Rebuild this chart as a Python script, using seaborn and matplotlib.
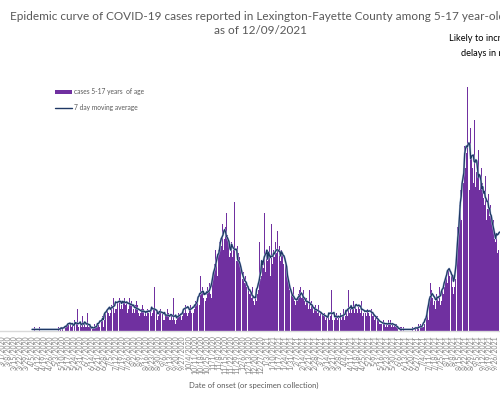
import matplotlib
matplotlib.use('Agg')
import matplotlib.pyplot as plt
import matplotlib.patheffects as pe
from matplotlib.patches import Patch
from matplotlib.lines import Line2D
import numpy as np
import pandas as pd
import seaborn as sns

# daily cases, 5-17 years of age, starting 3/1/2020 (one row per week)
start_date = '2020-03-01'
cases = [
    0, 0, 0, 0, 0, 0, 0,
    1, 0, 0, 0, 0, 0, 0,
    0, 0, 0, 0, 0, 0, 0,
    0, 0, 0, 0, 0, 0, 0,
    0, 1, 0, 0, 0, 0, 0,
    0, 2, 0, 1, 0, 0, 0,
    0, 0, 1, 0, 0, 0, 0,
    0, 0, 0, 0, 0, 0, 0,
    0, 0, 0, 0, 0, 0, 0,
    0, 1, 0, 1, 0, 1, 0,
    1, 1, 2, 0, 1, 1, 2,
    2, 1, 5, 2, 1, 2, 0,
    3, 1, 2, 2, 6, 1, 0,
    2, 1, 3, 4, 1, 2, 1,
    1, 5, 2, 1, 2, 1, 0,
    1, 1, 0, 2, 1, 1, 1,
    2, 1, 6, 2, 3, 4, 1,
    3, 5, 4, 12, 6, 5, 4,
    5, 7, 6, 8, 9, 5, 6,
    6, 8, 13, 7, 9, 6, 7,
    6, 8, 9, 11, 7, 8, 5,
    6, 9, 7, 10, 8, 5, 6,
    5, 7, 8, 6, 7, 5, 4,
    5, 6, 7, 5, 6, 4, 5,
    4, 6, 5, 7, 5, 6, 4,
    5, 6, 12, 4, 5, 6, 3,
    4, 5, 6, 4, 9, 5, 3,
    3, 5, 4, 6, 4, 5, 3,
    3, 4, 3, 9, 4, 3, 2,
    3, 4, 5, 4, 6, 4, 3,
    4, 6, 5, 7, 12, 5, 4,
    5, 6, 7, 5, 8, 6, 5,
    6, 8, 7, 9, 8, 10, 7,
    15, 10, 12, 9, 11, 10, 8,
    9, 12, 11, 13, 10, 12, 9,
    14, 16, 18, 22, 20, 17, 15,
    22, 24, 25, 23, 29, 30, 22,
    25, 28, 32, 26, 24, 22, 20,
    21, 24, 20, 22, 35, 18, 17,
    19, 23, 21, 20, 17, 16, 15,
    14, 16, 13, 15, 12, 11, 13,
    12, 10, 11, 9, 12, 8, 10,
    7, 9, 8, 10, 11, 24, 13,
    14, 15, 18, 17, 32, 16, 20,
    22, 19, 21, 23, 15, 29, 14,
    18, 22, 20, 24, 21, 27, 19,
    20, 23, 19, 22, 21, 18, 27,
    17, 19, 18, 16, 14, 11, 10,
    9, 11, 10, 12, 8, 7, 9,
    6, 8, 10, 11, 12, 9, 10,
    9, 11, 8, 7, 9, 8, 6,
    7, 11, 6, 8, 7, 5, 6,
    5, 7, 6, 5, 7, 4, 5,
    4, 6, 5, 4, 5, 3, 4,
    3, 5, 4, 3, 4, 11, 3,
    4, 5, 3, 4, 5, 3, 4,
    3, 4, 5, 3, 4, 6, 3,
    4, 5, 6, 4, 11, 5, 6,
    5, 7, 6, 8, 5, 7, 6,
    5, 12, 7, 6, 5, 8, 4,
    5, 6, 7, 5, 4, 6, 5,
    4, 8, 5, 6, 4, 5, 3,
    4, 5, 3, 4, 3, 2, 2,
    2, 3, 2, 3, 2, 1, 2,
    1, 3, 2, 2, 3, 1, 2,
    1, 2, 3, 1, 2, 1, 0,
    0, 1, 0, 1, 0, 1, 0,
    0, 0, 1, 0, 0, 0, 0,
    0, 1, 0, 2, 0, 1, 0,
    1, 2, 0, 1, 2, 1, 1,
    1, 2, 3, 5, 4, 6, 3,
    8, 13, 11, 15, 9, 7, 8,
    6, 10, 9, 11, 8, 12, 7,
    8, 11, 10, 19, 12, 14, 16,
    13, 17, 15, 27, 14, 16, 12,
    10, 12, 14, 16, 20, 28, 26,
    34, 38, 30, 42, 45, 40, 50,
    44, 48, 66, 52, 50, 38, 55,
    47, 44, 40, 57, 51, 39, 43,
    45, 49, 38, 42, 35, 44, 40,
    36, 34, 42, 30, 38, 33, 37,
    31, 34, 30, 29, 27, 30, 25,
    24, 26, 21, 22, 36, 28,
]

title = ('Epidemic curve of COVID-19 cases reported in Lexington-Fayette County '
         'among 5-17 year-olds\nas of 12/09/2021')
note = 'Likely to increase due to\ndelays in reporting'
xlabel = 'Date of onset (or specimen collection)'
bar_label = 'cases 5-17 years  of age'
line_label = '7 day moving average'

purple = '#7030A0'
navy = '#1F3864'
grey = '#595959'

sns.set_style('white')
plt.rcParams['font.family'] = ['Lato', 'DejaVu Sans']

dates = pd.date_range(start_date, periods=len(cases), freq='D')
df = pd.DataFrame({'day': np.arange(len(cases)), 'cases': cases})
df['avg'] = df['cases'].rolling(7, center=True, min_periods=4).mean()
# no line where there are hardly any cases
df.loc[df['avg'] < 0.35, 'avg'] = np.nan

fig = plt.figure(figsize=(5, 3.95), dpi=100)
ax = fig.add_axes([0, 0.162, 1, 0.7025])

sns.barplot(data=df, x='day', y='cases', native_scale=True, color=purple,
            saturation=1, width=0.92, linewidth=0, ax=ax)
sns.lineplot(data=df, x='day', y='avg', color=navy, lw=0.9, ax=ax,
             path_effects=[pe.Stroke(linewidth=1.5, foreground='#A9BCD8'), pe.Normal()])

ax.set_xlim(-2.33, 579.1)
ax.set_ylim(0, 75)

ticks = df['day'][::7]
ax.set_xticks(ticks)
ax.set_xticklabels([f'{d.month}/{d.day}/{d.year}' for d in dates[::7]],
                   rotation=90, fontsize=5, color='#7F7F7F')
ax.tick_params(axis='x', length=0, pad=3)
ax.set_yticks([])
ax.set_xlabel('')
ax.set_ylabel('')
for side in ['top', 'right', 'left']:
    ax.spines[side].set_visible(False)
ax.spines['bottom'].set_color('#D9D9D9')
ax.spines['bottom'].set_linewidth(1.0)

fig.text(0.52, 1 - 11 / 395, title, ha='center', va='top', fontsize=8.45,
         color=grey, linespacing=1.3)
fig.text(449 / 500, 1 - 34 / 395, note, ha='left', va='top', fontsize=6.7,
         color='black', multialignment='center', linespacing=1.85)
fig.text(253.5 / 500, 1 - 385 / 395, xlabel, ha='center', va='center',
         fontsize=5.6, color=grey)

handles = [Patch(facecolor=purple, edgecolor='none'),
           Line2D([0], [0], color=navy, lw=1.0)]
fig.legend(handles, [bar_label, line_label], loc='upper left',
           bbox_to_anchor=(55 / 500, 1 - 88 / 395), frameon=False, fontsize=4.8,
           labelcolor=grey, handlelength=2.5, handleheight=0.5,
           handletextpad=0.3, labelspacing=1.3, borderpad=0, borderaxespad=0)

fig.savefig('out.png', dpi=100)
